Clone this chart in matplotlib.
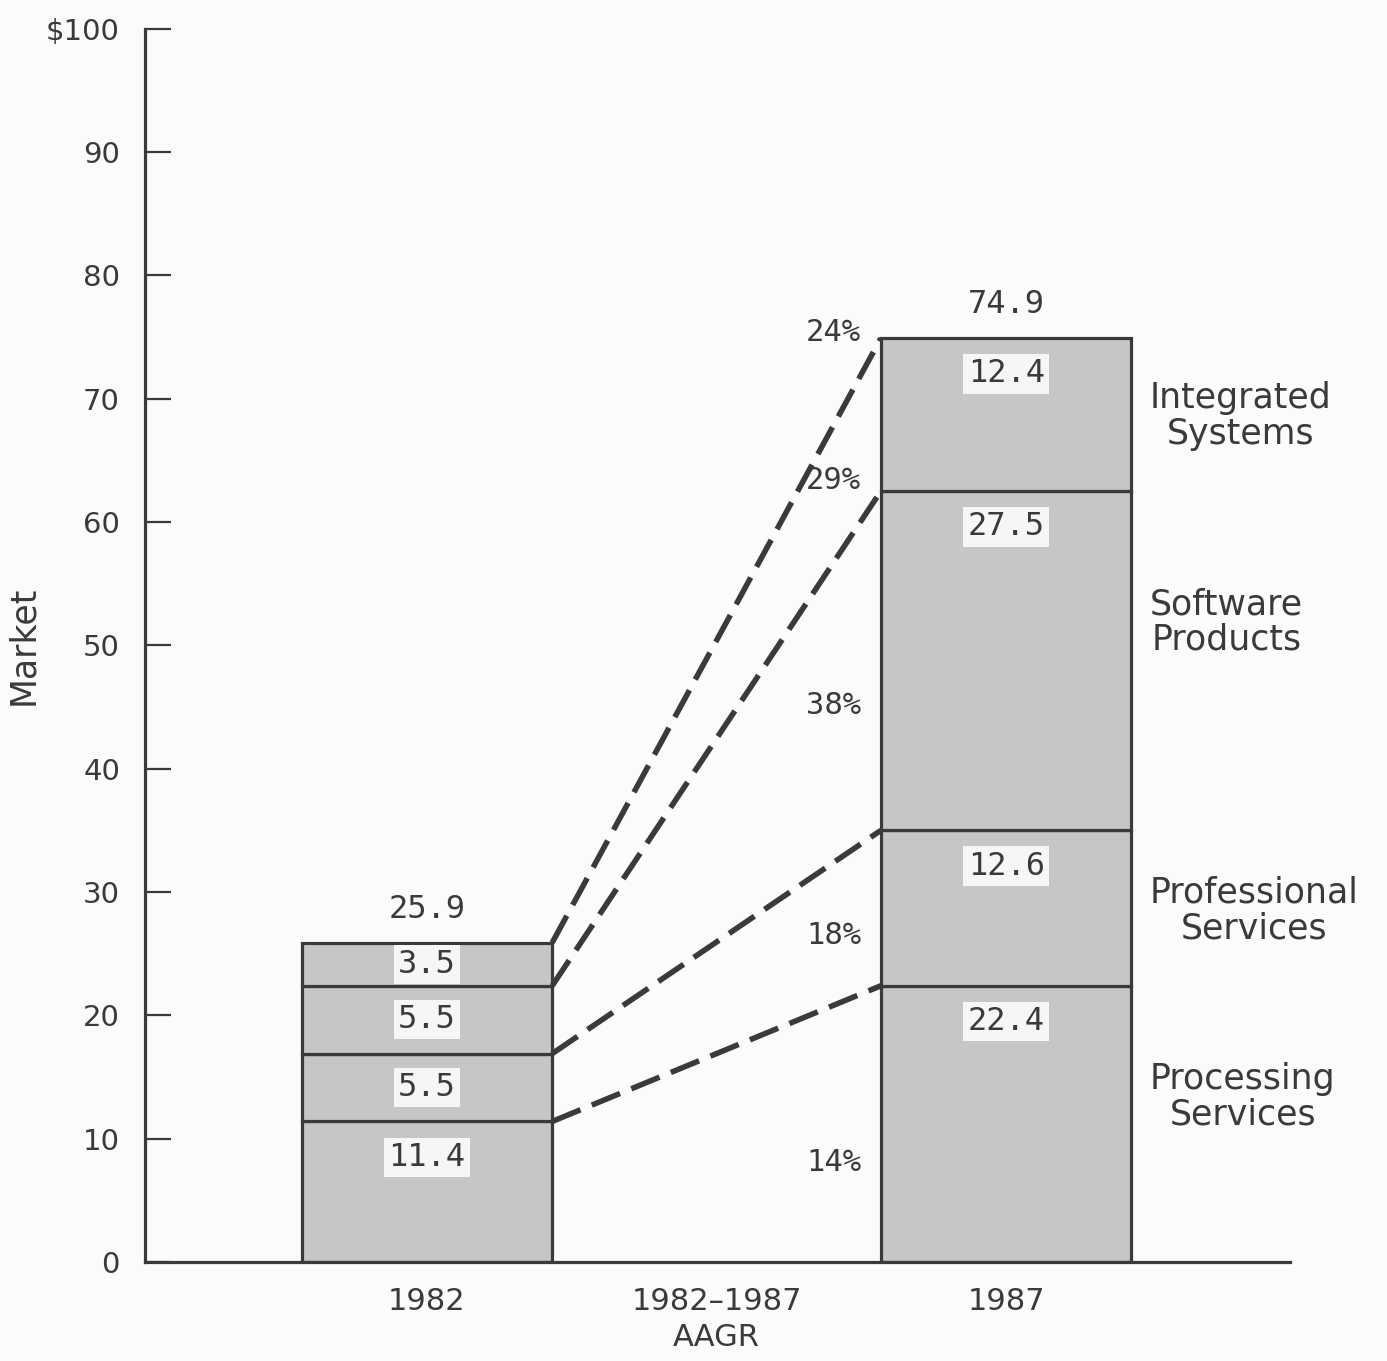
import matplotlib
matplotlib.use("Agg")
import matplotlib.pyplot as plt
import numpy as np

# market size, $ billions
years = ["1982", "1987"]
segments = ["Processing\nServices", "Professional\nServices", "Software\nProducts", "Integrated\nSystems"]
values_1982 = [11.4, 5.5, 5.5, 3.5]
values_1987 = [22.4, 12.6, 27.5, 12.4]
totals = ["25.9", "74.9"]
aagr = ["14%", "18%", "38%", "29%", "24%"]
ytick_vals = [0, 10, 20, 30, 40, 50, 60, 70, 80, 90, 100]
ytick_labels = ["0", "10", "20", "30", "40", "50", "60", "70", "80", "90", "$100"]

# layout
INK = "#3a3a3a"
FILL = "#c6c6c6"
BG = "#fbfbfb"
MONO = "DejaVu Sans Mono"
SANS = "DejaVu Sans"
bar_x = [1, 3]
width = 0.865
aagr_y = [8.1, 26.5, 45.1, 63.4, 75.4]
aagr_x = [2.5, 2.5, 2.5, 2.5, 2.5]
side_label_y = [13.4, 28.5, 51.9, 68.6]

fig = plt.figure(figsize=(13.87, 13.61), dpi=100, facecolor=BG)
ax = fig.add_axes([0.1045, 0.0727, 0.8255, 0.9063])
ax.set_facecolor(BG)

for x, vals, tot in zip(bar_x, [values_1982, values_1987], totals):
    cum = np.cumsum([0] + vals)
    for i, v in enumerate(vals):
        ax.bar(x, v, bottom=cum[i], width=width, color=FILL, edgecolor=INK,
               linewidth=2.3, zorder=2)
        ax.text(x, cum[i + 1] - min(v / 2, 2.9), f"{v:.1f}", ha="center", va="center",
                fontsize=23, family=MONO, color=INK, zorder=4,
                bbox=dict(facecolor="#f6f6f6", edgecolor="none", pad=3))
    ax.text(x, cum[-1] + 2.7, tot, ha="center", va="center", fontsize=23,
            family=MONO, color=INK)

# dashed connectors between segment tops
c82 = np.cumsum(values_1982)
c87 = np.cumsum(values_1987)
for a, b in zip(c82, c87):
    ax.plot([bar_x[0] + width / 2, bar_x[1] - width / 2], [a, b], color=INK,
            linewidth=4, dashes=(5.5, 2.2), zorder=3, solid_capstyle="butt")

for lab, x, y in zip(aagr, aagr_x, aagr_y):
    ax.text(x, y, lab, ha="right", va="center", fontsize=22, family=MONO, color=INK)

for lab, y in zip(segments, side_label_y):
    ax.text(3.497, y, lab, ha="left", va="center", multialignment="center",
            fontsize=25, family=SANS, color=INK, linespacing=1.05)

ax.set_xlim(0.026, 3.98)
ax.set_ylim(0, 100)
ax.set_yticks(ytick_vals)
ax.set_yticklabels(ytick_labels, fontsize=21, family=SANS, color=INK)
ax.tick_params(axis="y", direction="in", length=19, width=1.6, color=INK, pad=18)
ax.set_xticks([1, 2, 3])
ax.set_xticklabels(["1982", "1982\u20131987\nAAGR", "1987"], fontsize=22,
                   family=SANS, color=INK, linespacing=1.3)
ax.tick_params(axis="x", length=0, pad=18)
ax.set_ylabel("Market", fontsize=25, family=SANS, color=INK, labelpad=4)

for side in ["top", "right"]:
    ax.spines[side].set_visible(False)
for side in ["left", "bottom"]:
    ax.spines[side].set_color(INK)
    ax.spines[side].set_linewidth(2.3)

fig.savefig("out.png", dpi=100, facecolor=BG)
